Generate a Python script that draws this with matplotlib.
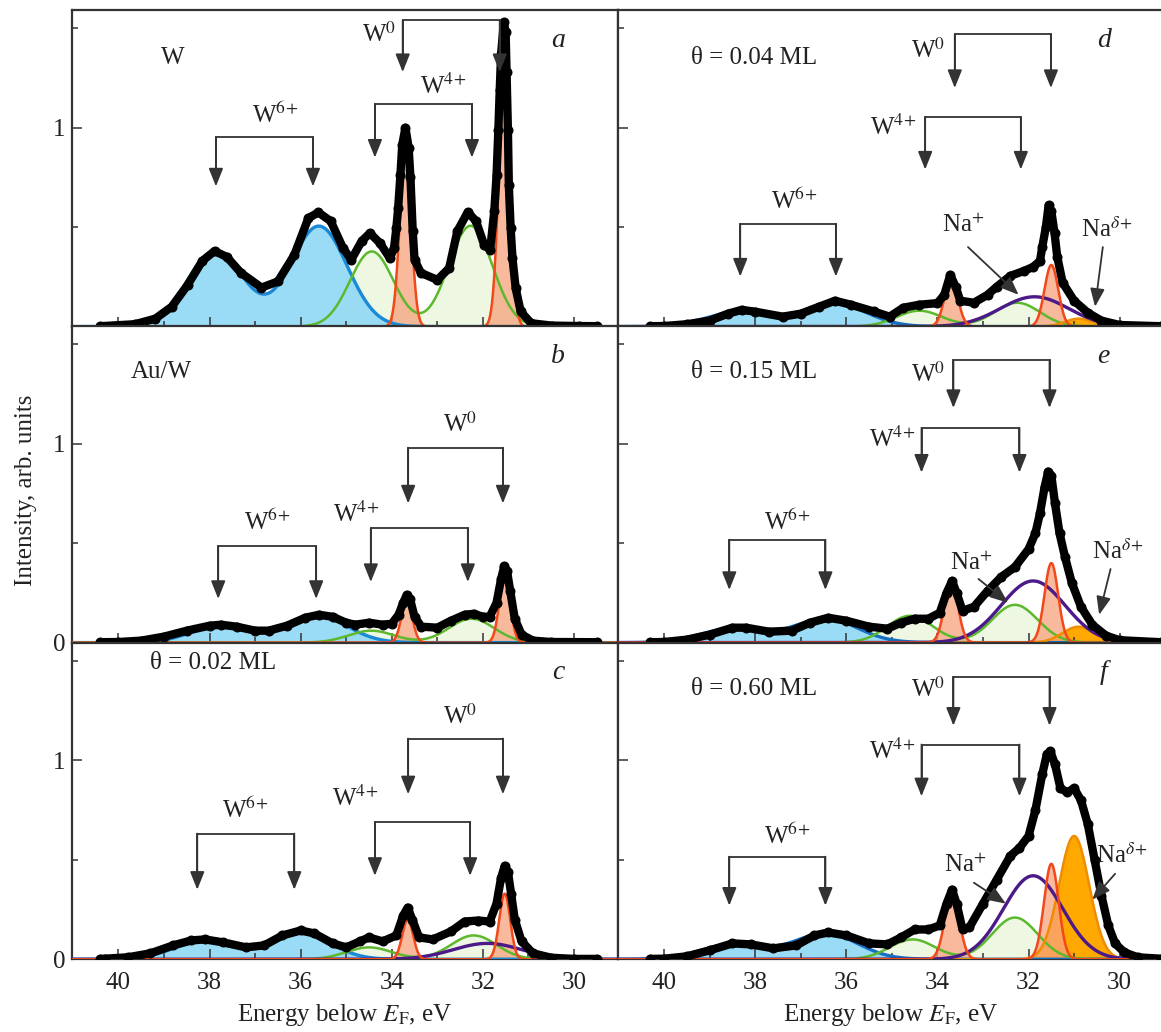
import numpy as np
import matplotlib
matplotlib.use("Agg")
import matplotlib.pyplot as plt
from matplotlib.ticker import FixedLocator, NullFormatter

plt.rcParams['font.family'] = ['Liberation Serif', 'DejaVu Serif']
plt.rcParams['mathtext.fontset'] = 'stix'

# ---------------- experimental spectra (energy eV, intensity) ----------------
a_x = [40.4, 39.64, 39.19, 38.83, 38.48, 38.16, 37.89, 37.62, 37.31, 36.86, 36.5, 36.14, 35.83,
       35.61, 35.34, 35.07, 34.89, 34.66, 34.48, 34.26, 34.04, 33.95, 33.9, 33.86, 33.81, 33.77, 33.7,
       33.63, 33.59, 33.54, 33.5, 33.36, 33.0, 32.74, 32.56, 32.33, 32.15, 31.97, 31.84, 31.75, 31.7,
       31.66, 31.63, 31.6, 31.54, 31.5, 31.48, 31.45, 31.43, 31.39, 31.35, 31.28, 31.17, 30.94, 30.49,
       29.9, 29.5]
a_y = [0.002, 0.012, 0.04, 0.10, 0.21, 0.33, 0.38, 0.35, 0.27, 0.196, 0.227, 0.36, 0.546,
       0.574, 0.53, 0.395, 0.336, 0.43, 0.47, 0.42, 0.344, 0.395, 0.495, 0.596, 0.764, 0.915, 1.0,
       0.9, 0.75, 0.48, 0.336, 0.27, 0.235, 0.294, 0.48, 0.576, 0.53, 0.41, 0.386, 0.58, 0.76,
       0.99, 1.19, 1.37, 1.53, 1.48, 1.28, 0.99, 0.71, 0.495, 0.344, 0.193, 0.076, 0.017, 0.005,
       0.003, 0.002]

b_x = [40.4, 40.0, 39.5, 39.0, 38.5, 38.0, 37.75, 37.4, 37.0, 36.7, 36.3, 35.9, 35.6, 35.3, 35.0,
       34.8, 34.5, 34.2, 34.0, 33.85, 33.75, 33.67, 33.6, 33.5, 33.35, 33.0, 32.7, 32.4, 32.2, 32.0,
       31.85, 31.7, 31.6, 31.53, 31.47, 31.4, 31.3, 31.15, 30.9, 30.5, 29.5]
b_y = [0.002, 0.003, 0.01, 0.03, 0.06, 0.085, 0.09, 0.08, 0.06, 0.06, 0.085, 0.125, 0.14, 0.13, 0.1,
       0.09, 0.10, 0.09, 0.095, 0.14, 0.20, 0.24, 0.22, 0.13, 0.08, 0.075, 0.11, 0.14, 0.145, 0.13,
       0.13, 0.20, 0.32, 0.385, 0.36, 0.26, 0.12, 0.04, 0.01, 0.003, 0.002]

c_x = [40.4, 40.3, 39.8, 39.3, 38.8, 38.4, 38.1, 37.7, 37.2, 36.8, 36.4, 36.0, 35.7, 35.3, 35.0,
       34.7, 34.5, 34.2, 33.9, 33.75, 33.65, 33.55, 33.4, 33.1, 32.7, 32.4, 32.1, 31.85, 31.7, 31.6,
       31.52, 31.45, 31.38, 31.3, 31.15, 30.9, 30.5, 30.0, 29.5]
c_y = [0.002, 0.003, 0.01, 0.03, 0.07, 0.095, 0.10, 0.085, 0.06, 0.07, 0.12, 0.145, 0.13, 0.08, 0.06,
       0.09, 0.11, 0.09, 0.12, 0.22, 0.26, 0.20, 0.11, 0.10, 0.14, 0.19, 0.195, 0.19, 0.28, 0.41,
       0.47, 0.44, 0.33, 0.20, 0.09, 0.03, 0.008, 0.002, 0.002]

d_x = [40.3, 40.0, 39.5, 39.0, 38.6, 38.3, 38.0, 37.4, 37.0, 36.6, 36.25, 35.9, 35.4, 35.05, 34.75,
       34.4, 34.0, 33.85, 33.72, 33.6, 33.5, 33.2, 32.9, 32.7, 32.4, 32.1, 31.9, 31.75, 31.7, 31.62,
       31.56, 31.5, 31.43, 31.37, 31.25, 31.0, 30.7, 30.4, 30.0, 29.1]
d_y = [0.002, 0.003, 0.012, 0.03, 0.065, 0.084, 0.075, 0.05, 0.065, 0.10, 0.13, 0.11, 0.076, 0.05, 0.095,
       0.11, 0.118, 0.16, 0.26, 0.20, 0.13, 0.12, 0.16, 0.20, 0.255, 0.28, 0.30, 0.33, 0.40, 0.50,
       0.61, 0.58, 0.47, 0.35, 0.22, 0.13, 0.07, 0.03, 0.008, 0.002]

e_x = [40.3, 40.0, 39.5, 39.0, 38.5, 38.2, 37.7, 37.2, 36.8, 36.4, 36.0, 35.5, 35.1, 34.8, 34.5,
       34.2, 33.95, 33.8, 33.68, 33.58, 33.45, 33.2, 32.9, 32.6, 32.3, 32.0, 31.85, 31.75, 31.65, 31.57,
       31.5, 31.42, 31.32, 31.2, 31.05, 30.85, 30.6, 30.3, 30.0, 29.1]
e_y = [0.002, 0.003, 0.015, 0.04, 0.075, 0.075, 0.055, 0.06, 0.10, 0.125, 0.11, 0.08, 0.07, 0.10, 0.12,
       0.12, 0.15, 0.25, 0.31, 0.25, 0.16, 0.18, 0.26, 0.33, 0.38, 0.47, 0.55, 0.65, 0.78, 0.86,
       0.84, 0.70, 0.55, 0.43, 0.30, 0.18, 0.09, 0.035, 0.012, 0.002]

f_x = [40.3, 40.0, 39.5, 39.0, 38.5, 38.1, 37.6, 37.1, 36.7, 36.4, 36.0, 35.5, 35.1, 34.8, 34.5,
       34.2, 33.95, 33.8, 33.68, 33.58, 33.45, 33.3, 33.0, 32.7, 32.4, 32.2, 32.0, 31.85, 31.7, 31.6,
       31.52, 31.42, 31.3, 31.15, 31.0, 30.85, 30.7, 30.55, 30.4, 30.25, 30.1, 29.9, 29.6, 29.1]
f_y = [0.002, 0.003, 0.015, 0.045, 0.08, 0.075, 0.055, 0.07, 0.12, 0.135, 0.12, 0.08, 0.075, 0.11, 0.15,
       0.15, 0.17, 0.28, 0.35, 0.28, 0.15, 0.16, 0.28, 0.40, 0.52, 0.56, 0.62, 0.75, 0.93, 1.03,
       1.045, 0.98, 0.86, 0.84, 0.86, 0.80, 0.68, 0.50, 0.32, 0.17, 0.08, 0.035, 0.01, 0.003]

# ---------------- fitted components: [centre1, centre2], [height1, height2], sigma ----------------
a_w6 = ([37.87, 35.6], [0.38, 0.505], 0.62)
a_w4 = ([34.44, 32.27], [0.378, 0.507], 0.48)
a_w0 = ([33.70, 31.53], [0.88, 1.21], 0.125)

b_w6 = ([37.75, 35.6], [0.085, 0.13], 0.65)
b_w4 = ([34.45, 32.25], [0.06, 0.12], 0.5)
b_w0 = ([33.67, 31.52], [0.21, 0.33], 0.12)

c_w6 = ([38.15, 36.0], [0.09, 0.135], 0.65)
c_w4 = ([34.5, 32.2], [0.06, 0.12], 0.5)
c_w0 = ([33.65, 31.52], [0.20, 0.33], 0.12)
c_na = ([31.9], [0.08], 0.75)

d_w6 = ([38.35, 36.25], [0.075, 0.115], 0.7)
d_w4 = ([34.4, 32.25], [0.08, 0.12], 0.5)
d_w0 = ([33.7, 31.5], [0.23, 0.31], 0.15)
d_na = ([31.87], [0.15], 0.75)
d_nd = ([30.9], [0.04], 0.3)

e_w6 = ([38.5, 36.45], [0.07, 0.12], 0.7)
e_w4 = ([34.6, 32.3], [0.135, 0.19], 0.5)
e_w0 = ([33.7, 31.5], [0.30, 0.40], 0.15)
e_na = ([31.9], [0.31], 0.7)
e_nd = ([30.9], [0.08], 0.35)

f_w6 = ([38.5, 36.45], [0.075, 0.13], 0.7)
f_w4 = ([34.55, 32.3], [0.10, 0.21], 0.5)
f_w0 = ([33.68, 31.5], [0.33, 0.48], 0.16)
f_na = ([31.9], [0.42], 0.65)
f_nd = ([31.0], [0.62], 0.33)

# ---------------- annotation brackets: (x1, x2, top, tip) and labels ----------------
a_br = [(37.86, 35.73, 0.952, 0.705), (34.37, 32.24, 1.12, 0.85), (33.76, 31.63, 1.54, 1.28)]
a_lb = [(36.57, 1.06), (32.87, 1.21), (34.28, 1.47)]
b_br = [(37.81, 35.66, 0.485, 0.22), (34.46, 32.33, 0.575, 0.305), (33.64, 31.56, 0.98, 0.70)]
b_lb = [(36.74, 0.607), (34.79, 0.643), (32.5, 1.097)]
c_br = [(38.27, 36.14, 0.632, 0.35), (34.37, 32.28, 0.69, 0.42), (33.64, 31.56, 1.11, 0.83)]
c_lb = [(37.22, 0.747), (34.8, 0.81), (32.5, 1.22)]
d_br = [(38.33, 36.23, 0.517, 0.252), (34.27, 32.17, 1.053, 0.79), (33.62, 31.51, 1.47, 1.2)]
d_lb = [(37.14, 0.63), (34.98, 1.0), (34.2, 1.39)]
e_br = [(38.57, 36.46, 0.517, 0.265), (34.35, 32.2, 1.08, 0.855), (33.65, 31.54, 1.42, 1.18)]
e_lb = [(37.3, 0.607), (35.0, 1.02), (34.2, 1.35)]
f_br = [(38.57, 36.46, 0.516, 0.27), (34.35, 32.2, 1.08, 0.82), (33.65, 31.54, 1.42, 1.175)]
f_lb = [(37.3, 0.617), (35.0, 1.045), (34.2, 1.357)]

# Na labels: (label x, label y, arrow start x, y, arrow end x, y)
d_na_lb = (33.44, 0.51, 33.33, 0.40, 32.22, 0.16)
d_nd_lb = (30.29, 0.49, 30.37, 0.40, 30.54, 0.10)
e_na_lb = (33.25, 0.40, 33.1, 0.32, 32.45, 0.20)
e_nd_lb = (30.05, 0.46, 30.2, 0.37, 30.45, 0.14)
f_na_lb = (33.38, 0.47, 33.2, 0.385, 32.5, 0.28)
f_nd_lb = (29.95, 0.52, 30.1, 0.43, 30.6, 0.30)

titles = ['W', 'Au/W', 'θ = 0.02 ML', 'θ = 0.04 ML', 'θ = 0.15 ML', 'θ = 0.60 ML']
title_pos = [(39.06, 1.35), (39.74, 1.36), (39.3, 1.49), (39.4, 1.35), (39.4, 1.36), (39.4, 1.357)]
letters = ['a', 'b', 'c', 'd', 'e', 'f']

# ---------------- styles ----------------
C_BLUE_F, C_BLUE_L = '#8fd8f6', '#1a8ad6'
C_BLUE_L2 = '#1670c4'
C_GREEN_F, C_GREEN_L = '#eef7e2', '#5cb82c'
C_RED_F, C_RED_L = '#f7a27c', '#f2481a'
C_PURP = '#4b1a88'
C_OR_F, C_OR_L = '#ffa800', '#f08c00'
C_AX = '#333333'

XG = np.linspace(41.0, 29.0, 1201)


def comp(params):
    centres, heights, sig = params
    y = np.zeros_like(XG)
    for c, h in zip(centres, heights):
        y += h * np.exp(-(XG - c) ** 2 / (2 * sig ** 2))
    return y


W = 1161.0
H = 1032.0
col_x = [72.0 / W, 617.7 / W]
col_w = 545.7 / W
row_top = [10.0, 326.0, 642.7]
row_h = 316.6

fig = plt.figure(figsize=(W / 100, H / 100), dpi=100)

panels = [
    (a_x, a_y, a_w6, a_w4, a_w0, None, None, a_br, a_lb, None, None),
    (b_x, b_y, b_w6, b_w4, b_w0, None, None, b_br, b_lb, None, None),
    (c_x, c_y, c_w6, c_w4, c_w0, c_na, None, c_br, c_lb, None, None),
    (d_x, d_y, d_w6, d_w4, d_w0, d_na, d_nd, d_br, d_lb, d_na_lb, d_nd_lb),
    (e_x, e_y, e_w6, e_w4, e_w0, e_na, e_nd, e_br, e_lb, e_na_lb, e_nd_lb),
    (f_x, f_y, f_w6, f_w4, f_w0, f_na, f_nd, f_br, f_lb, f_na_lb, f_nd_lb),
]
labels3 = [r'W$^{6\!+}$', r'W$^{4\!+}$', r'W$^{0}$']

FS = 18
ARROW = '-|>,head_length=0.55,head_width=0.22'

for i, (xs, ys, w6, w4, w0, na, nd, br, lb, nalb, ndlb) in enumerate(panels):
    col = i // 3
    row = i % 3
    bottom = 1 - (row_top[row] + row_h) / H
    ax = fig.add_axes([col_x[col], bottom, col_w, row_h / H])
    ax.set_xlim(41.02, 29.04)
    ax.set_ylim(0, 1.592)

    y6, y4, y0 = comp(w6), comp(w4), comp(w0)
    ax.fill_between(XG, 0, y4, color=C_GREEN_F, lw=0, zorder=1)
    ax.fill_between(XG, 0, y6, color=C_BLUE_F, lw=0, alpha=0.9, zorder=1.2)
    if nd is not None:
        ynd = comp(nd)
        ax.fill_between(XG, 0, ynd, color=C_OR_F, lw=0, zorder=1.4)
    ax.fill_between(XG, 0, y0, color=C_RED_F, lw=0, alpha=0.75, zorder=1.6)

    ax.plot(XG, y6, color=(C_BLUE_L if col == 0 else C_BLUE_L2), lw=2.4, zorder=3)
    ax.plot(XG, y4, color=C_GREEN_L, lw=1.8, zorder=3)
    if nd is not None:
        ax.plot(XG, ynd, color=C_OR_L, lw=1.8, zorder=3)
    if na is not None:
        ax.plot(XG, comp(na), color=C_PURP, lw=2.4, zorder=3.2)
    ax.plot(XG, y0, color=C_RED_L, lw=1.8, zorder=3.4)

    ax.plot(xs, ys, '-o', color='black', lw=6.0, ms=6.2, zorder=5, solid_capstyle='round',
            solid_joinstyle='round')

    # brackets
    for (x1, x2, top, tip), (lx, ly), txt in zip(br, lb, labels3):
        ax.plot([x1, x1, x2, x2], [tip + 0.05, top, top, tip + 0.05], color=C_AX, lw=1.3, zorder=6,
                solid_joinstyle='miter')
        for xx in (x1, x2):
            ax.annotate('', xy=(xx, tip), xytext=(xx, top),
                        arrowprops=dict(arrowstyle=ARROW, color=C_AX, lw=1.3, shrinkA=0, shrinkB=0,
                                        mutation_scale=20), zorder=6)
        ax.text(lx, ly, txt, fontsize=FS, ha='center', va='center', color='#222222', zorder=7)

    for nl, txt in ((nalb, r'Na$^{+}$'), (ndlb, r'Na$^{\delta\!+}$')):
        if nl is None:
            continue
        lx, ly, sx, sy, ex, ey = nl
        ax.text(lx, ly, txt, fontsize=FS, ha='center', va='center', color='#222222', zorder=7)
        ax.annotate('', xy=(ex, ey), xytext=(sx, sy),
                    arrowprops=dict(arrowstyle=ARROW, color=C_AX, lw=1.3, shrinkA=0, shrinkB=0,
                                    mutation_scale=20), zorder=6)

    tx, ty = title_pos[i]
    ax.text(tx, ty, titles[i], fontsize=FS, ha='left', va='center', color='#222222')
    ax.text(30.35, 1.44, letters[i], fontsize=FS + 2, style='italic', ha='center', va='center',
            color='#222222')

    # axes styling
    for s in ax.spines.values():
        s.set_linewidth(1.6)
        s.set_color(C_AX)
    ax.xaxis.set_major_locator(FixedLocator([30, 32, 34, 36, 38, 40]))
    ax.xaxis.set_minor_locator(FixedLocator([31, 33, 35, 37, 39]))
    ax.yaxis.set_major_locator(FixedLocator([0, 1]))
    ax.yaxis.set_minor_locator(FixedLocator([0.5, 1.5]))
    ax.tick_params(which='both', direction='in', top=False, right=False, color=C_AX, width=1.1,
                   labelsize=FS, labelcolor='#222222')
    ax.tick_params(which='major', length=7)
    ax.tick_params(which='minor', length=4.5)
    ax.tick_params(axis='x', pad=9)
    ax.tick_params(axis='y', pad=5)
    if row < 2:
        ax.xaxis.set_major_formatter(NullFormatter())
    else:
        ax.set_xlabel(r'Energy below $E_{\mathrm{F}}$, eV', fontsize=FS, color='#222222', labelpad=6)
    if col == 1:
        ax.yaxis.set_major_formatter(NullFormatter())
    elif row == 0:
        ax.set_yticklabels(['', '1'])
    else:
        ax.set_yticklabels(['0', '1'])

fig.text(26 / W, 1 - 490 / H, 'Intensity, arb. units', rotation=90, fontsize=FS, ha='center',
         va='center', color='#222222')

fig.savefig('out.png', dpi=100)
